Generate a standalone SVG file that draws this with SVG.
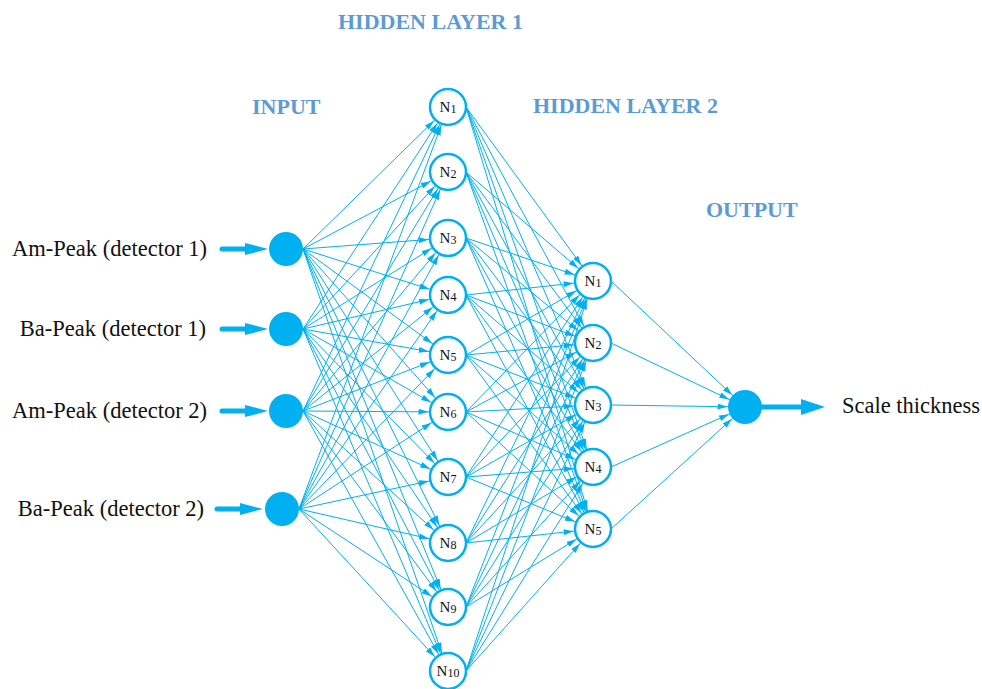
<svg xmlns="http://www.w3.org/2000/svg" width="982" height="689" viewBox="0 0 982 689">
<style>
.title{font-family:"Liberation Serif","Times New Roman",serif;font-weight:bold;font-size:22px;fill:#5B9BD5}
.lbl{font-family:"Liberation Serif","Times New Roman",serif;font-size:22.5px;fill:#111}
.nl{font-family:"Liberation Serif","Times New Roman",serif;font-size:15px;fill:#111;text-anchor:middle}
.sub{font-size:12px}
.c line{stroke:#00B0F0;stroke-width:1;fill:none}
.h line{marker-end:url(#ah)}
.o line{marker-end:url(#ao)}
.node{fill:#fff;stroke:#00B0F0;stroke-width:2.5}
.fnode{fill:#00B0F0;stroke:none}
.big{fill:#00B0F0}
.c line.shaft{stroke:#00B0F0;stroke-width:5;stroke-linecap:round}
</style>
<defs>
<marker id="ah" viewBox="0 0 10 6" refX="29.5" refY="3" markerWidth="10" markerHeight="6" markerUnits="userSpaceOnUse" orient="auto"><path d="M0,0 L10,3 L0,6 z" fill="#00B0F0"/></marker>
<marker id="ao" viewBox="0 0 10 6" refX="27.5" refY="3" markerWidth="10" markerHeight="6" markerUnits="userSpaceOnUse" orient="auto"><path d="M0,0 L10,3 L0,6 z" fill="#00B0F0"/></marker>
</defs>
<rect width="982" height="689" fill="#fff"/>

<g id="titles">
<text class="title" x="338" y="29">HIDDEN LAYER 1</text>
<text class="title" x="252" y="114">INPUT</text>
<text class="title" x="533" y="113">HIDDEN LAYER 2</text>
<text class="title" x="706" y="217">OUTPUT</text>
</g>

<g id="connectors" class="c">
<g id="in-arrows">
<line class="shaft" x1="222" y1="249" x2="246" y2="249"/><polygon class="big" points="245,243 268,249 245,255"/>
<line class="shaft" x1="222" y1="329" x2="246" y2="329"/><polygon class="big" points="245,323 268,329 245,335"/>
<line class="shaft" x1="222" y1="411" x2="246" y2="411"/><polygon class="big" points="245,405 268,411 245,417"/>
<line class="shaft" x1="217" y1="509" x2="241" y2="509"/><polygon class="big" points="240,503 263,509 240,515"/>
</g>
<g id="out-arrow">
<line class="shaft" x1="762" y1="407" x2="802" y2="407"/><polygon class="big" points="801,399 825,407 801,415"/>
</g>
<g class="h" id="in-h1">
<line x1="303" y1="249" x2="448" y2="107"/><line x1="303" y1="249" x2="448" y2="172"/><line x1="303" y1="249" x2="448" y2="238"/><line x1="303" y1="249" x2="448" y2="295"/><line x1="303" y1="249" x2="448" y2="355"/><line x1="303" y1="249" x2="448" y2="412"/><line x1="303" y1="249" x2="448" y2="477"/><line x1="303" y1="249" x2="448" y2="543"/><line x1="303" y1="249" x2="448" y2="607"/><line x1="303" y1="249" x2="448" y2="671"/>
<line x1="303" y1="329" x2="448" y2="107"/><line x1="303" y1="329" x2="448" y2="172"/><line x1="303" y1="329" x2="448" y2="238"/><line x1="303" y1="329" x2="448" y2="295"/><line x1="303" y1="329" x2="448" y2="355"/><line x1="303" y1="329" x2="448" y2="412"/><line x1="303" y1="329" x2="448" y2="477"/><line x1="303" y1="329" x2="448" y2="543"/><line x1="303" y1="329" x2="448" y2="607"/><line x1="303" y1="329" x2="448" y2="671"/>
<line x1="303" y1="411" x2="448" y2="107"/><line x1="303" y1="411" x2="448" y2="172"/><line x1="303" y1="411" x2="448" y2="238"/><line x1="303" y1="411" x2="448" y2="295"/><line x1="303" y1="411" x2="448" y2="355"/><line x1="303" y1="411" x2="448" y2="412"/><line x1="303" y1="411" x2="448" y2="477"/><line x1="303" y1="411" x2="448" y2="543"/><line x1="303" y1="411" x2="448" y2="607"/><line x1="303" y1="411" x2="448" y2="671"/>
<line x1="299" y1="509" x2="448" y2="107"/><line x1="299" y1="509" x2="448" y2="172"/><line x1="299" y1="509" x2="448" y2="238"/><line x1="299" y1="509" x2="448" y2="295"/><line x1="299" y1="509" x2="448" y2="355"/><line x1="299" y1="509" x2="448" y2="412"/><line x1="299" y1="509" x2="448" y2="477"/><line x1="299" y1="509" x2="448" y2="543"/><line x1="299" y1="509" x2="448" y2="607"/><line x1="299" y1="509" x2="448" y2="671"/>
</g>
<g class="h" id="h1-h2">
<line x1="466" y1="107" x2="593" y2="281"/><line x1="466" y1="107" x2="593" y2="343"/><line x1="466" y1="107" x2="593" y2="405"/><line x1="466" y1="107" x2="593" y2="467"/><line x1="466" y1="107" x2="593" y2="529"/>
<line x1="466" y1="172" x2="593" y2="281"/><line x1="466" y1="172" x2="593" y2="343"/><line x1="466" y1="172" x2="593" y2="405"/><line x1="466" y1="172" x2="593" y2="467"/><line x1="466" y1="172" x2="593" y2="529"/>
<line x1="466" y1="238" x2="593" y2="281"/><line x1="466" y1="238" x2="593" y2="343"/><line x1="466" y1="238" x2="593" y2="405"/><line x1="466" y1="238" x2="593" y2="467"/><line x1="466" y1="238" x2="593" y2="529"/>
<line x1="466" y1="295" x2="593" y2="281"/><line x1="466" y1="295" x2="593" y2="343"/><line x1="466" y1="295" x2="593" y2="405"/><line x1="466" y1="295" x2="593" y2="467"/><line x1="466" y1="295" x2="593" y2="529"/>
<line x1="466" y1="355" x2="593" y2="281"/><line x1="466" y1="355" x2="593" y2="343"/><line x1="466" y1="355" x2="593" y2="405"/><line x1="466" y1="355" x2="593" y2="467"/><line x1="466" y1="355" x2="593" y2="529"/>
<line x1="466" y1="412" x2="593" y2="281"/><line x1="466" y1="412" x2="593" y2="343"/><line x1="466" y1="412" x2="593" y2="405"/><line x1="466" y1="412" x2="593" y2="467"/><line x1="466" y1="412" x2="593" y2="529"/>
<line x1="466" y1="477" x2="593" y2="281"/><line x1="466" y1="477" x2="593" y2="343"/><line x1="466" y1="477" x2="593" y2="405"/><line x1="466" y1="477" x2="593" y2="467"/><line x1="466" y1="477" x2="593" y2="529"/>
<line x1="466" y1="543" x2="593" y2="281"/><line x1="466" y1="543" x2="593" y2="343"/><line x1="466" y1="543" x2="593" y2="405"/><line x1="466" y1="543" x2="593" y2="467"/><line x1="466" y1="543" x2="593" y2="529"/>
<line x1="466" y1="607" x2="593" y2="281"/><line x1="466" y1="607" x2="593" y2="343"/><line x1="466" y1="607" x2="593" y2="405"/><line x1="466" y1="607" x2="593" y2="467"/><line x1="466" y1="607" x2="593" y2="529"/>
<line x1="466" y1="671" x2="593" y2="281"/><line x1="466" y1="671" x2="593" y2="343"/><line x1="466" y1="671" x2="593" y2="405"/><line x1="466" y1="671" x2="593" y2="467"/><line x1="466" y1="671" x2="593" y2="529"/>
</g>
<g class="o" id="h2-out">
<line x1="611" y1="281" x2="745" y2="407"/><line x1="611" y1="343" x2="745" y2="407"/><line x1="611" y1="405" x2="745" y2="407"/><line x1="611" y1="467" x2="745" y2="407"/><line x1="611" y1="529" x2="745" y2="407"/>
</g>
</g>

<g id="input-labels">
<text class="lbl" x="207" y="256" text-anchor="end">Am-Peak (detector 1)</text>
<text class="lbl" x="206" y="336" text-anchor="end">Ba-Peak (detector 1)</text>
<text class="lbl" x="207" y="418" text-anchor="end">Am-Peak (detector 2)</text>
<text class="lbl" x="204" y="516" text-anchor="end">Ba-Peak (detector 2)</text>
</g>

<g id="in1"><circle class="fnode" cx="286" cy="249" r="17"/></g>
<g id="in2"><circle class="fnode" cx="286" cy="329" r="17"/></g>
<g id="in3"><circle class="fnode" cx="286" cy="411" r="17"/></g>
<g id="in4"><circle class="fnode" cx="282" cy="509" r="17"/></g>

<g id="h1n1"><circle class="node" cx="448" cy="107" r="18"/><text class="nl" x="448" y="112">N<tspan class="sub" dy="1">1</tspan></text></g>
<g id="h1n2"><circle class="node" cx="448" cy="172" r="18"/><text class="nl" x="448" y="177">N<tspan class="sub" dy="1">2</tspan></text></g>
<g id="h1n3"><circle class="node" cx="448" cy="238" r="18"/><text class="nl" x="448" y="243">N<tspan class="sub" dy="1">3</tspan></text></g>
<g id="h1n4"><circle class="node" cx="448" cy="295" r="18"/><text class="nl" x="448" y="300">N<tspan class="sub" dy="1">4</tspan></text></g>
<g id="h1n5"><circle class="node" cx="448" cy="355" r="18"/><text class="nl" x="448" y="360">N<tspan class="sub" dy="1">5</tspan></text></g>
<g id="h1n6"><circle class="node" cx="448" cy="412" r="18"/><text class="nl" x="448" y="417">N<tspan class="sub" dy="1">6</tspan></text></g>
<g id="h1n7"><circle class="node" cx="448" cy="477" r="18"/><text class="nl" x="448" y="482">N<tspan class="sub" dy="1">7</tspan></text></g>
<g id="h1n8"><circle class="node" cx="448" cy="543" r="18"/><text class="nl" x="448" y="548">N<tspan class="sub" dy="1">8</tspan></text></g>
<g id="h1n9"><circle class="node" cx="448" cy="607" r="18"/><text class="nl" x="448" y="612">N<tspan class="sub" dy="1">9</tspan></text></g>
<g id="h1n10"><circle class="node" cx="448" cy="671" r="18"/><text class="nl" x="448" y="676">N<tspan class="sub" dy="1">10</tspan></text></g>

<g id="h2n1"><circle class="node" cx="593" cy="281" r="18"/><text class="nl" x="593" y="286">N<tspan class="sub" dy="1">1</tspan></text></g>
<g id="h2n2"><circle class="node" cx="593" cy="343" r="18"/><text class="nl" x="593" y="348">N<tspan class="sub" dy="1">2</tspan></text></g>
<g id="h2n3"><circle class="node" cx="593" cy="405" r="18"/><text class="nl" x="593" y="410">N<tspan class="sub" dy="1">3</tspan></text></g>
<g id="h2n4"><circle class="node" cx="593" cy="467" r="18"/><text class="nl" x="593" y="472">N<tspan class="sub" dy="1">4</tspan></text></g>
<g id="h2n5"><circle class="node" cx="593" cy="529" r="18"/><text class="nl" x="593" y="534">N<tspan class="sub" dy="1">5</tspan></text></g>

<g id="out"><circle class="fnode" cx="745" cy="407" r="17"/></g>
<g id="out-label"><text class="lbl" x="842" y="413">Scale thickness</text></g>
</svg>
